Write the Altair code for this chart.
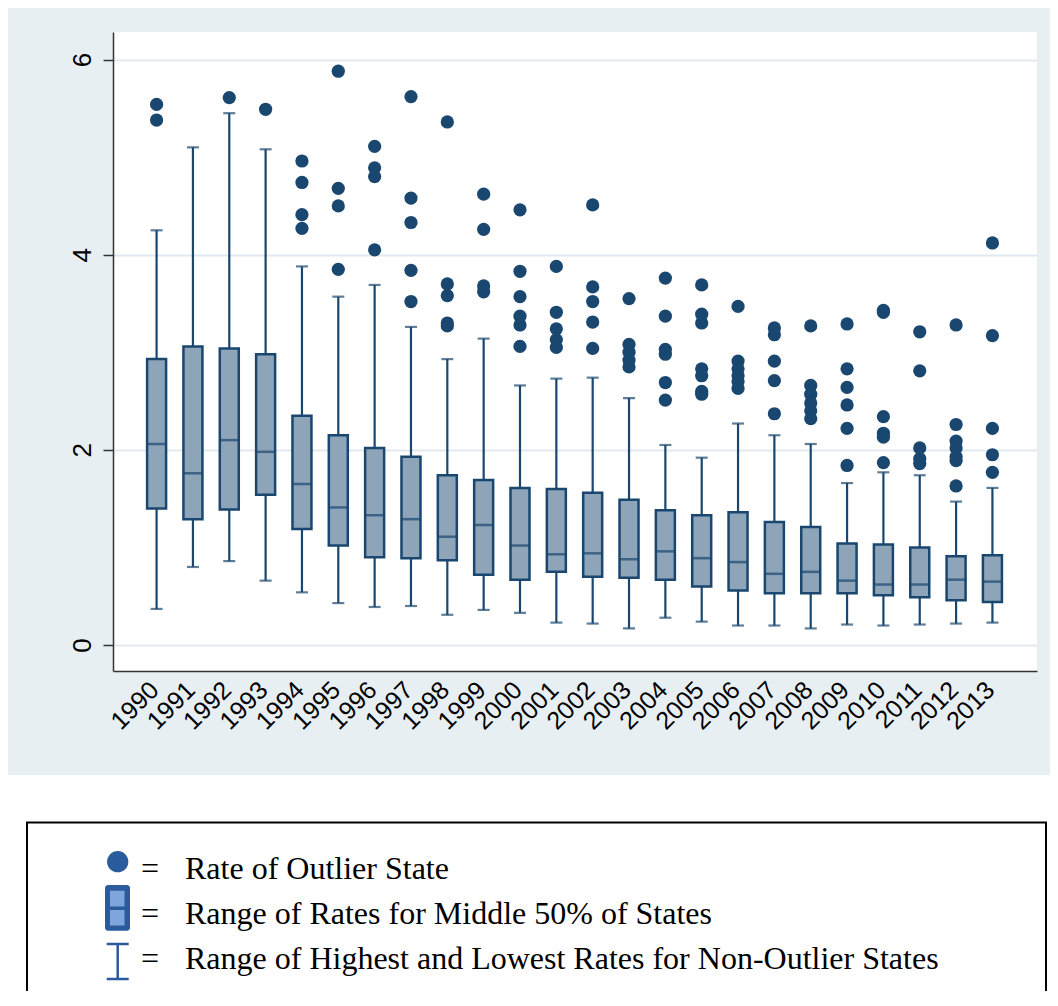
import altair as alt
import pandas as pd

# ---------------- data ----------------
years = list(range(1990, 2014))
lower = [0.37, 0.80, 0.86, 0.66, 0.54, 0.43, 0.39, 0.40, 0.31, 0.36, 0.33, 0.23,
         0.22, 0.17, 0.28, 0.24, 0.20, 0.20, 0.17, 0.21, 0.20, 0.21, 0.22, 0.23]
q1 = [1.40, 1.29, 1.39, 1.54, 1.19, 1.02, 0.90, 0.89, 0.87, 0.72, 0.67, 0.75,
      0.70, 0.69, 0.67, 0.60, 0.56, 0.53, 0.53, 0.53, 0.51, 0.49, 0.46, 0.44]
median = [2.06, 1.76, 2.10, 1.98, 1.65, 1.41, 1.33, 1.29, 1.11, 1.23, 1.02, 0.93,
          0.94, 0.88, 0.96, 0.89, 0.85, 0.73, 0.75, 0.66, 0.62, 0.62, 0.67, 0.65]
q3 = [2.93, 3.06, 3.04, 2.98, 2.35, 2.15, 2.02, 1.93, 1.74, 1.69, 1.61, 1.60,
      1.56, 1.49, 1.38, 1.33, 1.36, 1.26, 1.21, 1.04, 1.03, 1.00, 0.91, 0.92]
upper = [4.25, 5.10, 5.45, 5.08, 3.88, 3.57, 3.69, 3.26, 2.93, 3.14, 2.66, 2.73,
         2.74, 2.53, 2.05, 1.92, 2.27, 2.15, 2.06, 1.66, 1.77, 1.74, 1.47, 1.61]
outliers = [
    [5.54, 5.38],
    [],
    [5.61],
    [5.49],
    [4.96, 4.74, 4.41, 4.27],
    [5.88, 4.68, 4.50, 3.85],
    [5.11, 4.89, 4.80, 4.05],
    [5.62, 4.58, 4.33, 3.84, 3.52],
    [5.36, 3.70, 3.58, 3.30, 3.27],
    [4.62, 4.26, 3.68, 3.62],
    [4.46, 3.83, 3.57, 3.37, 3.28, 3.06],
    [3.88, 3.41, 3.24, 3.13, 3.05],
    [4.51, 3.67, 3.52, 3.31, 3.04],
    [3.55, 3.08, 3.00, 2.92, 2.85],
    [3.76, 3.37, 3.03, 2.98, 2.69, 2.51],
    [3.69, 3.39, 3.30, 2.83, 2.76, 2.60, 2.57],
    [3.47, 2.91, 2.83, 2.76, 2.70, 2.63],
    [3.25, 3.18, 2.91, 2.71, 2.37],
    [3.27, 2.66, 2.57, 2.48, 2.40, 2.32],
    [3.29, 2.83, 2.64, 2.46, 2.22, 1.84],
    [3.43, 3.41, 2.34, 2.17, 2.13, 1.87],
    [3.21, 2.81, 2.02, 1.91, 1.86],
    [3.28, 2.26, 2.09, 2.02, 1.93, 1.89, 1.63],
    [4.12, 3.17, 2.22, 1.95, 1.77],
]
y_ticks = [0, 2, 4, 6]
legend_labels = [
    "Rate of Outlier State",
    "Range of Rates for Middle 50% of States",
    "Range of Highest and Lowest Rates for Non-Outlier States",
]

# ---------------- styles / layout ----------------
NAVY = "#1a476f"
BOX_FILL = "#8da4b9"
BG = "#e8eff2"
GRID = "#e1eaee"
LEG_BLUE = "#2a5b9c"
LEG_LIGHT = "#7fa6dc"
SERIF = "Liberation Serif, Times New Roman, serif"
SANS = "Liberation Sans, Arial, sans-serif"
W, H = 924, 639
XDOM = [1988.938, 2014.089]
YDOM = [-0.266, 6.282]

stats = pd.DataFrame({"year": years, "lower": lower, "q1": q1, "median": median,
                      "q3": q3, "upper": upper})
out_df = pd.DataFrame([{"year": y, "value": v} for y, vals in zip(years, outliers) for v in vals])
one = pd.DataFrame({"a": [0]})

x_enc = alt.X("year:Q", scale=alt.Scale(domain=XDOM, nice=False, zero=False),
              axis=alt.Axis(values=years, format="d", title=None, grid=False, ticks=False,
                            labelAngle=315, labelAlign="right", labelBaseline="top",
                            labelPadding=6, labelOffset=-11, labelFontSize=25, labelFont=SANS,
                            labelColor="black", domainColor="#333333", domainWidth=1.5,
                            labelOverlap=False, labelFlush=False))
y_axis = alt.Axis(values=y_ticks, title=None, grid=True, gridColor=GRID, gridWidth=2,
                  tickSize=10, tickColor="#333333", tickWidth=1.5,
                  domainColor="#333333", domainWidth=1.5,
                  labelAngle=270, labelAlign="center", labelBaseline="bottom",
                  labelPadding=8, labelFontSize=26, labelFont=SANS,
                  labelColor="black", labelFlush=False)
y_scale = alt.Scale(domain=YDOM, nice=False, zero=False)

whisk = alt.Chart(stats).mark_rule(color=NAVY, strokeWidth=2.2).encode(
    x=x_enc, y=alt.Y("lower:Q", scale=y_scale, axis=y_axis), y2="upper:Q")
cap_lo = alt.Chart(stats).mark_tick(color=NAVY, orient="horizontal", size=12, thickness=2.2).encode(
    x=x_enc, y=alt.Y("lower:Q", scale=y_scale, axis=y_axis))
cap_hi = alt.Chart(stats).mark_tick(color=NAVY, orient="horizontal", size=12, thickness=2.2).encode(
    x=x_enc, y=alt.Y("upper:Q", scale=y_scale, axis=y_axis))
box = alt.Chart(stats).mark_bar(width=19, fill=BOX_FILL, stroke=NAVY, strokeWidth=2.5).encode(
    x=x_enc, y=alt.Y("q1:Q", scale=y_scale, axis=y_axis), y2="q3:Q")
med = alt.Chart(stats).mark_tick(color=NAVY, orient="horizontal", size=19, thickness=2.5).encode(
    x=x_enc, y=alt.Y("median:Q", scale=y_scale, axis=y_axis))
pts = alt.Chart(out_df).mark_circle(color=NAVY, size=175, opacity=1).encode(
    x=x_enc, y=alt.Y("value:Q", scale=y_scale, axis=y_axis))

# white area below the graph region
white = alt.Chart(one).mark_rect(color="white").encode(
    x=alt.value(-120), x2=alt.value(W + 40), y=alt.value(743), y2=alt.value(1000))
# legend frame
frame = alt.Chart(one).mark_rect(fillOpacity=0, stroke="black", strokeWidth=2).encode(
    x=alt.value(-86), x2=alt.value(933), y=alt.value(790.5), y2=alt.value(1000))

leg_layers = []
# circle icon
leg_layers.append(alt.Chart(one).mark_circle(color=LEG_BLUE, size=452, opacity=1).encode(
    x=alt.value(4.7), y=alt.value(829.7)))
# box icon
leg_layers.append(alt.Chart(one).mark_rect(color=LEG_BLUE, cornerRadius=3).encode(
    x=alt.value(-8), x2=alt.value(17), y=alt.value(853), y2=alt.value(898.7)))
leg_layers.append(alt.Chart(one).mark_rect(color=LEG_LIGHT).encode(
    x=alt.value(-3), x2=alt.value(11.5), y=alt.value(858.7), y2=alt.value(874.5)))
leg_layers.append(alt.Chart(one).mark_rect(color=LEG_LIGHT).encode(
    x=alt.value(-3), x2=alt.value(11.5), y=alt.value(878), y2=alt.value(893.5)))
# whisker icon
leg_layers.append(alt.Chart(one).mark_rule(color=LEG_BLUE, strokeWidth=2.5).encode(
    x=alt.value(4.7), y=alt.value(912), y2=alt.value(947)))
for yy in (912, 947):
    leg_layers.append(alt.Chart(one).mark_rule(color=LEG_BLUE, strokeWidth=2.5).encode(
        x=alt.value(-6.3), x2=alt.value(15.7), y=alt.value(yy)))
# texts
for i, lab in enumerate(legend_labels):
    base_y = 847 + 45 * i
    leg_layers.append(alt.Chart(one).mark_text(
        text="=", align="left", baseline="alphabetic", font=SERIF,
        fontSize=32, color="black").encode(x=alt.value(28), y=alt.value(base_y)))
    leg_layers.append(alt.Chart(one).mark_text(
        text=lab, align="left", baseline="alphabetic", font=SERIF,
        fontSize=32, color="black").encode(x=alt.value(72), y=alt.value(base_y)))

chart = alt.layer(white, frame, whisk, cap_lo, cap_hi, box, med, pts, *leg_layers).properties(
    width=W, height=H,
    autosize=alt.AutoSizeParams(type="none"),
    padding={"left": 105, "top": 24, "right": 13, "bottom": 320},
    background=BG,
).configure_view(fill="white", stroke=None, strokeWidth=0)

chart.save("out.html", embed_options={"renderer": "svg", "actions": False})
